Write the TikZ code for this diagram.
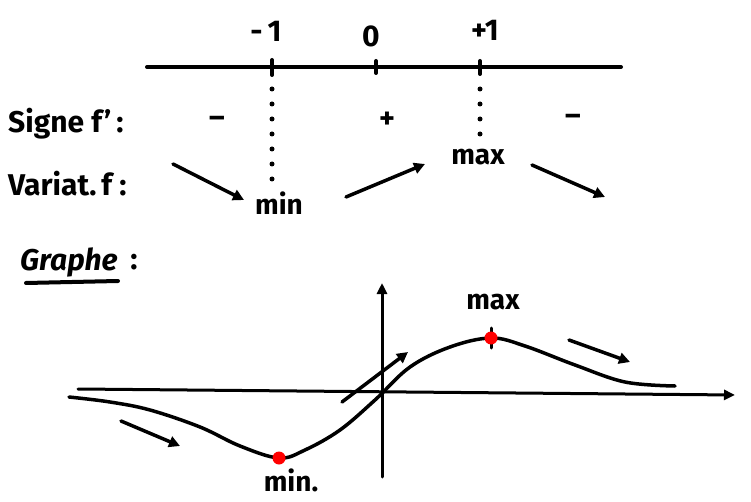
\documentclass[tikz,border=0pt]{standalone}
\usepackage{fontspec}
\setmainfont{Fira Sans}
\usetikzlibrary{arrows.meta}
\begin{document}
\begin{tikzpicture}[x=1pt,y=-1pt,
  thick line/.style={line width=4pt, line cap=round},
  arr/.style={line width=3.5pt, line cap=round, -{Triangle[length=11pt,width=11pt]}},
  axarr/.style={line width=3pt, line cap=round, -{Triangle[length=11pt,width=10pt]}},
  dots/.style={line width=5pt, line cap=round, dash pattern=on 0pt off 15pt},
  lbl/.style={font=\bfseries\fontsize{30}{32}\selectfont, inner sep=0pt},
  small/.style={font=\bfseries\fontsize{28}{30}\selectfont, inner sep=0pt},
  reddot/.style={circle, fill=red, inner sep=0pt, minimum size=13pt}]
\useasboundingbox (0,0) rectangle (751,502);
% number line
\coordinate (L0) at (147,67);
\coordinate (L1) at (621,67);
\draw[thick line] (L0) -- (L1);
\draw[thick line] (272,60) -- (272,75);
\draw[thick line] (376,61) -- (376,73);
\draw[thick line] (480,61) -- (480,74);
\node[lbl] (m1) at (266,31) {-\,1};
\node[lbl] (z0) at (371,36) {0};
\node[lbl] (p1) at (485,30) {+1};
% dotted lines
\coordinate (dm1) at (272,89);
\coordinate (dm2) at (272,179);
\draw[dots] (dm1) -- (dm2);
\coordinate (dp1) at (480,89);
\coordinate (dp2) at (480,139);
\draw[dots] (dp1) -- (dp2);
% row labels
\node[lbl, anchor=west] (signe) at (8,124) {Signe f’\,:};
\node[lbl, anchor=west] (variat) at (8,184) {Variat.\,f :};
\node[lbl] (s1) at (217,122) {\textendash};
\node[lbl] (s2) at (387,120) {+};
\node[lbl] (s3) at (573,120) {\textendash};
% variation arrows
\node[small] (vmin) at (279,203) {min};
\node[small] (vmax) at (478,157) {max};
\coordinate (a1s) at (173,164);
\coordinate (a1e) at (244,200);
\draw[arr] (a1s) -- (a1e);
\coordinate (a2s) at (346,197);
\coordinate (a2e) at (425,164);
\draw[arr] (a2s) -- (a2e);
\coordinate (a3s) at (532,165);
\coordinate (a3e) at (605,197);
\draw[arr] (a3s) -- (a3e);
% Graphe title
\node[lbl, anchor=west] (graphe) at (20,262) {\itshape Graphe};
\node[lbl] (gcolon) at (134,262) {:};
\coordinate (u0) at (26,283);
\coordinate (u1) at (118,281);
\draw[thick line] (u0) -- (u1);
% axes
\coordinate (xa0) at (78,389);
\coordinate (xa1) at (735,395);
\draw[axarr] (xa0) -- (xa1);
\coordinate (ya0) at (382,477);
\coordinate (ya1) at (382,283);
\draw[axarr] (ya0) -- (ya1);
% curve
\draw[line width=3.5pt, line cap=round] plot[smooth, tension=0.6] coordinates {
 (69,397) (110,402) (150,410) (200,427) (240,446) (279,458) (305,450) (340,430) (375,400) (410,367) (450,347) (491,338) (525,346) (575,365) (625,382) (675,386)};
\draw[line width=3pt, line cap=round] (491,328) -- (491,348);
\node[reddot] (pmin) at (279,458) {};
\node[reddot] (pmax) at (491,338) {};
\node[small] (gmax) at (493,302) {max};
\node[small] (gmin) at (291,480) {min.};
% graph arrows
\coordinate (b1s) at (121,421);
\coordinate (b1e) at (180,446);
\draw[arr] (b1s) -- (b1e);
\coordinate (b2s) at (342,402);
\coordinate (b2e) at (408,352);
\draw[arr] (b2s) -- (b2e);
\coordinate (b3s) at (569,340);
\coordinate (b3e) at (630,362);
\draw[arr] (b3s) -- (b3e);
\end{tikzpicture}
\end{document}
